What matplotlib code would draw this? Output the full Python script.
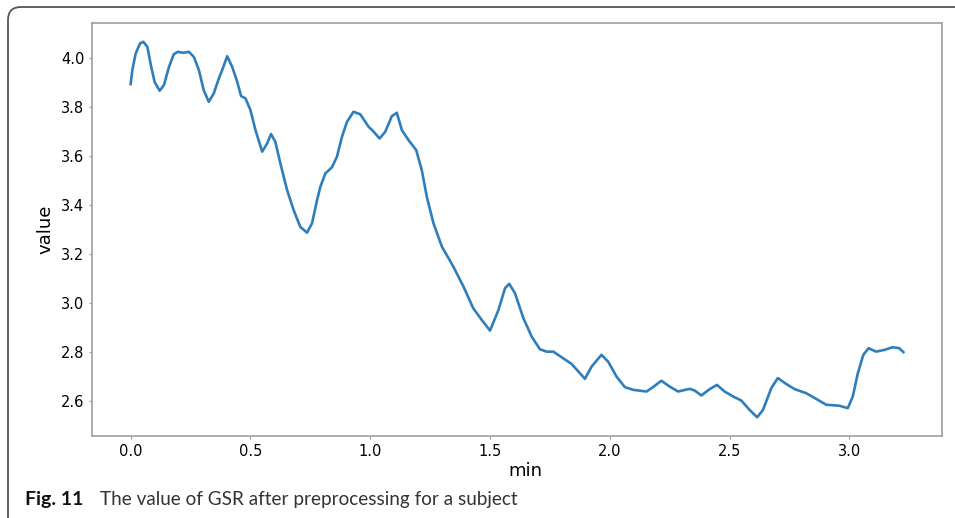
import matplotlib
matplotlib.use("Agg")
import matplotlib.pyplot as plt
from matplotlib.patches import FancyBboxPatch

# GSR trace after preprocessing (time in minutes, value)
t_min = [0.000, 0.007, 0.021, 0.039, 0.053, 0.070, 0.083, 0.100, 0.121, 0.139,
         0.160, 0.180, 0.197, 0.220, 0.243, 0.264, 0.285, 0.305, 0.326, 0.347,
         0.368, 0.382, 0.403, 0.424, 0.445, 0.461, 0.479, 0.500, 0.521, 0.549,
         0.570, 0.586, 0.604, 0.625, 0.653, 0.680, 0.708, 0.736, 0.757, 0.778,
         0.792, 0.8125, 0.840, 0.861, 0.882, 0.903, 0.930, 0.958, 0.993, 1.011,
         1.039, 1.0625, 1.090, 1.111, 1.132, 1.160, 1.192, 1.215, 1.236, 1.264,
         1.299, 1.347, 1.389, 1.430, 1.465, 1.500, 1.535, 1.5625, 1.580, 1.604,
         1.639, 1.674, 1.708, 1.736, 1.764, 1.799, 1.840, 1.875, 1.896, 1.924,
         1.965, 1.993, 2.028, 2.0625, 2.097, 2.153, 2.180, 2.215, 2.250, 2.285,
         2.333, 2.354, 2.382, 2.417, 2.447, 2.479, 2.514, 2.549, 2.583, 2.615,
         2.639, 2.674, 2.701, 2.736, 2.771, 2.820, 2.861, 2.903, 2.958, 2.993,
         3.014, 3.035, 3.058, 3.080, 3.111, 3.146, 3.180, 3.208, 3.225]
gsr = [3.894, 3.951, 4.019, 4.060, 4.067, 4.046, 3.978, 3.903, 3.867, 3.890,
       3.964, 4.016, 4.026, 4.022, 4.026, 4.005, 3.951, 3.869, 3.822, 3.856,
       3.917, 3.951, 4.008, 3.964, 3.903, 3.845, 3.836, 3.788, 3.706, 3.618,
       3.652, 3.690, 3.658, 3.570, 3.461, 3.380, 3.311, 3.287, 3.325, 3.420,
       3.475, 3.529, 3.554, 3.597, 3.679, 3.740, 3.781, 3.771, 3.720, 3.703,
       3.672, 3.699, 3.763, 3.777, 3.706, 3.665, 3.624, 3.543, 3.434, 3.325,
       3.230, 3.148, 3.067, 2.978, 2.931, 2.887, 2.971, 3.060, 3.078, 3.040,
       2.938, 2.862, 2.811, 2.801, 2.801, 2.778, 2.751, 2.713, 2.690, 2.740,
       2.788, 2.760, 2.699, 2.656, 2.645, 2.638, 2.656, 2.682, 2.658, 2.638,
       2.649, 2.642, 2.622, 2.648, 2.665, 2.638, 2.618, 2.601, 2.563, 2.533,
       2.563, 2.652, 2.693, 2.669, 2.648, 2.631, 2.608, 2.584, 2.580, 2.570,
       2.618, 2.713, 2.788, 2.815, 2.801, 2.808, 2.819, 2.815, 2.799]

x_ticks = [0.0, 0.5, 1.0, 1.5, 2.0, 2.5, 3.0]
y_ticks = [2.6, 2.8, 3.0, 3.2, 3.4, 3.6, 3.8, 4.0]

W, H = 955, 518
fig = plt.figure(figsize=(W / 100, H / 100), dpi=100)
ax = fig.add_axes([92 / W, 1 - 436 / H, 850 / W, 413 / H])

ax.plot(t_min, gsr, color="#2f7ebc", lw=1.9, solid_joinstyle="round")
ax.set_xticks(x_ticks)
ax.set_yticks(y_ticks)
ax.tick_params(labelsize=10.5, length=2.5, width=0.8, color="#999999", pad=3)
for s in ax.spines.values():
    s.set_color("#a0a0a0")
    s.set_linewidth(1.2)
ax.set_xlabel("min", fontsize=13)
ax.set_ylabel("value", fontsize=13, labelpad=5)
ax.xaxis.set_label_coords(0.51, -0.063)

# journal-style frame around the figure (open to the right and bottom)
frame = FancyBboxPatch((0.08, -0.6), 10.5, 5.71,
                       boxstyle="round,pad=0,rounding_size=0.13",
                       transform=fig.dpi_scale_trans, fill=False,
                       edgecolor="#555555", lw=1.3, clip_on=False)
fig.patches.append(frame)

fig.text(25 / W, 1 - 499 / H, "Fig. 11", fontsize=14, fontweight="bold",
         family="Lato", va="center", ha="left", color="#111111")
fig.text(100 / W, 1 - 499 / H, "The value of GSR after preprocessing for a subject",
         fontsize=13.6, family="Lato", va="center", ha="left", color="#333333")

fig.savefig("out.png", dpi=100)
